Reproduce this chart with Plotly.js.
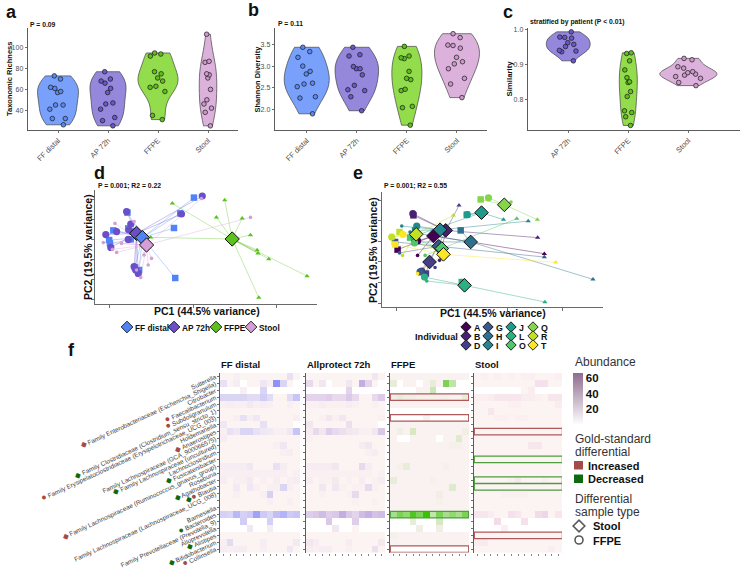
<!DOCTYPE html>
<html><head><meta charset="utf-8">
<script src="https://cdn.plot.ly/plotly-3.0.1.min.js"></script>
<style>html,body{margin:0;padding:0;background:#fff}#chart{width:743px;height:572px}</style>
</head><body><div id="chart"></div>
<script>
// ================= DATA =================
const groups = ['FF distal','AP 72h','FFPE','Stool'];
const richFF    = [73,70,62,61,58,57,45,45,41,32,32,26];
const richAP    = [77,70,68,66,61,57,47,46,41,33,30,25];
const richFFPE  = [95,94,92,77,75,71,68,63,62,58,35,31];
const richStool = [113,87,86,75,74,71,60,50,46,42,38,25];
const shanFF    = [3.43,3.33,3.20,3.00,2.88,2.82,2.61,2.59,2.53,2.30,2.27,1.91];
const shanAP    = [3.43,3.26,3.23,2.99,2.94,2.94,2.80,2.56,2.46,2.44,2.30,1.98];
const shanFFPE  = [3.45,3.23,3.19,3.17,2.88,2.72,2.69,2.47,2.44,2.08,2.05,1.65];
const shanStool = [3.74,3.65,3.48,3.47,3.41,3.20,3.10,3.05,2.94,2.72,2.59,2.28];
const simGroups = ['AP 72h','FFPE','Stool'];
const simAP    = [0.993,0.978,0.977,0.975,0.962,0.957,0.951,0.940,0.938,0.936,0.910];
const simFFPE  = [0.933,0.931,0.910,0.884,0.862,0.850,0.848,0.822,0.808,0.767,0.762,0.750,0.725];
const simStool = [0.917,0.913,0.893,0.889,0.879,0.876,0.872,0.869,0.865,0.860,0.848,0.839];

// PCoA (panel d) coordinates by sample type
const dFFx = [0.002,-0.031,-0.046,-0.158,-0.192,-0.202,-0.200,-0.150,-0.156,-0.140,-0.130,-0.043,-0.146];
const dFFy = [0.207,0.128,0.055,0.132,0.043,-0.005,-0.022,-0.002,0.053,-0.142,-0.155,-0.195,0.037];
const dAPx = [0.022,-0.028,-0.160,-0.150,-0.154,-0.184,-0.210,-0.198,-0.156,-0.142,-0.132,-0.138];
const dAPy = [0.215,0.125,0.137,0.075,0.045,0.037,0.022,-0.042,-0.002,-0.138,-0.172,-0.155];
const dFPx = [-0.050,0.076,0.056,0.118,0.138,0.154,0.156,0.182,0.274,0.158,-0.102];
const dFPy = [0.178,0.195,0.108,0.103,0.020,-0.055,-0.072,-0.100,-0.185,-0.293,0.008];
const dSTx = [0.020,0.138,-0.188,-0.142,-0.172,-0.184,-0.194,-0.118,-0.108,-0.100,-0.136,-0.126,-0.216];
const dSTy = [0.202,0.108,0.078,0.087,-0.022,-0.067,-0.052,-0.080,-0.130,-0.097,-0.155,-0.192,-0.018];
const dCentX = [-0.122,-0.136,0.094,-0.112];   // FF distal, AP 72h, FFPE, Stool
const dCentY = [0.007,0.028,0.000,-0.030];

// PCoA (panel e) by individual
const individuals = ['A','B','D','G','H','I','J','L','O','Q','R','T'];
const indColors = ['#440154','#482173','#433E85','#38598C','#2D708E','#25858E','#1E9B8A','#2BB07F','#51C56A','#85D54A','#C2DF23','#FDE725'];
const eCx  = [-0.066,-0.022,-0.080,-0.047,0.068,-0.042,0.107,0.046,-0.036,0.189,-0.128,-0.030];
const eCy  = [0.026,0.053,-0.100,-0.024,-0.003,0.056,0.139,-0.213,-0.035,0.177,0.034,-0.063];
const eFFx = [-0.195,-0.138,-0.093,-0.204,0.032,-0.132,0.054,0.036,-0.150,0.104,-0.188,-0.204];
const eFFy = [-0.040,0.126,-0.156,-0.003,0.053,0.053,0.129,-0.197,0.018,0.203,0.045,-0.015];
const eAPx = [-0.123,-0.140,-0.108,-0.114,-0.134,-0.126,0.056,-0.098,-0.134,0.132,-0.216,-0.176];
const eAPy = [0.002,0.134,-0.144,-0.148,-0.003,0.074,0.129,-0.173,-0.008,0.211,0.021,0.034];
const eFPx = [0.333,0.309,0.026,0.333,0.508,0.275,0.186,0.335,0.234,0.308,0.006,0.374];
const eFPy = [-0.060,0.018,0.174,-0.076,-0.184,0.098,0.105,-0.294,0.110,0.105,0.126,-0.102];
const eSTx = [-0.123,-0.044,-0.060,-0.188,-0.150,-0.180,-0.144,-0.090,-0.096,0.213,-0.177,-0.123];
const eSTy = [-0.068,-0.092,-0.127,-0.056,0.045,0.074,0.021,-0.192,-0.068,0.190,-0.068,-0.156];

// Heatmap (panel f)
const taxa = ['Sutterella','Family Enterobacteriaceae (Escherichia_Shigella)','Citrobacter','Faecalibacterium','Subdoligranulum',
 'Family Clostridiaceae (Clostridium_sensu_stricto_1)','Family Erysipelatoclostridiaceae (Erysipelotrichaceae_UCG_003)','Holdemanella',
 'Anaerostipes','Family Lachnospiraceae (GCA_900066575)','Family Lachnospiraceae (uncultured)','Lachnoclostridium','Fusicatenibacter',
 'Family Lachnospiraceae (Ruminococcus_gnavus_group)','Roseburia','Agathobacter','Blautia','Family Lachnospiraceae (Lachnospiraceae_UCG_008)',
 'Family Lachnospiraceae (Ruminococcus_torques_group)','Barnesiella','Bacteroides','Family Prevotellaceae (Prevotella_9)','Alloprevotella',
 'Alistipes','Bifidobacterium','Collinsella'];
const markStool = ['','inc','','','','dec','','','inc','','dec','','dec','inc','','dec','dec','','inc','','','','','dec','dec',''];
const markFFPE  = ['','','','inc','inc','','inc','','','','','','','','','','inc','','','','dec','','','','','inc'];
const facets = ['FF distal','Allprotect 72h','FFPE','Stool'];
const abFF = [
[2,2,3,2,2,2,2,2,2,2,8,2],[8,2,4,0,2,2,6,3,35,12,2,0],[0,0,0,3,0,0,12,0,0,0,0,0],[12,12,12,12,10,10,15,10,2,2,10,18],
[3,4,3,3,5,3,4,3,2,2,3,2],[2,2,2,2,2,2,2,2,2,2,2,2],[2,2,3,8,3,6,2,2,2,2,2,3],[6,2,2,2,2,2,8,2,2,2,2,0],
[3,8,6,12,12,8,6,5,3,3,6,18],[4,2,2,2,2,2,2,2,2,2,2,2],[2,2,2,2,2,2,2,2,3,6,2,2],[2,2,2,2,2,2,2,2,2,3,4,2],
[2,2,2,2,2,2,2,2,2,2,2,2],[4,4,4,4,6,2,2,2,8,4,2,2],[3,3,3,3,3,3,3,3,3,3,2,3],[4,2,3,3,5,2,3,2,4,2,3,4],
[2,2,5,2,6,3,2,3,3,12,3,2],[2,2,3,2,2,2,3,14,2,2,2,2],[2,2,2,2,2,2,2,3,2,2,3,2],[2,2,2,2,2,2,2,2,2,2,2,2],
[14,12,22,14,16,30,16,12,20,24,16,18],[0,0,0,15,0,0,0,14,0,0,0,0],[0,0,0,0,6,0,0,4,0,0,0,0],[2,2,2,2,2,2,2,2,2,2,2,2],
[3,10,2,2,2,2,4,2,2,2,2,5],[4,3,4,4,2,2,3,2,2,2,6,2]];
const abAP = [
[2,2,2,2,2,2,2,2,2,2,6,2],[10,2,6,0,2,2,6,2,25,12,2,0],[0,0,0,0,0,0,12,0,0,0,0,0],[12,12,12,14,10,10,15,10,2,2,10,15],
[3,3,4,3,3,3,4,3,2,2,3,2],[2,2,2,2,2,2,2,2,2,2,2,2],[2,2,3,6,3,6,2,2,2,2,2,3],[6,2,2,2,2,2,8,2,2,2,2,0],
[4,10,6,14,10,8,6,5,3,3,6,16],[3,2,2,2,2,2,2,2,2,2,2,2],[2,2,2,2,2,2,2,2,4,6,2,2],[2,2,2,2,2,2,2,2,2,3,4,2],
[2,2,2,2,2,2,2,2,2,2,2,2],[4,4,4,4,6,2,2,2,10,4,2,2],[3,3,3,3,3,3,3,3,3,3,2,3],[4,2,3,3,5,2,3,2,4,2,3,4],
[2,2,6,2,6,3,2,3,3,10,3,2],[2,2,3,2,2,2,3,10,2,2,2,2],[2,2,2,2,2,2,2,3,2,2,3,2],[2,2,2,2,2,2,2,2,2,2,2,2],
[14,16,20,14,16,25,16,12,20,24,18,20],[0,0,0,16,0,0,0,14,0,0,0,0],[0,0,0,0,6,0,0,2,0,0,0,0],[2,2,2,2,2,2,2,2,2,2,2,2],
[6,4,2,2,2,2,4,2,2,2,2,5],[4,3,4,4,2,2,3,2,2,2,8,2]];
const abFFPE = [
[2,2,2,2,2,2,2,2,2,2,2,2],[6,0,2,2,0,2,6,2,30,15,0,0],[0,0,0,0,2,2,12,0,0,0,0,0],[4,6,4,4,3,3,3,3,3,2,2,6],
[2,2,2,2,2,2,2,2,2,2,2,2],[0,0,0,0,0,0,0,0,0,0,0,0],[0,0,0,0,0,2,0,0,0,0,0,0],[2,2,2,2,2,2,2,2,2,2,2,2],
[2,4,2,10,2,2,2,2,2,2,2,4],[2,0,0,2,2,2,2,0,2,2,8,2],[2,2,2,2,2,2,2,2,2,3,3,2],[2,2,2,2,2,2,2,2,2,2,2,2],
[2,2,2,2,2,2,2,2,2,2,2,2],[2,3,6,2,2,2,2,2,3,2,2,2],[2,2,2,2,2,2,2,2,2,2,2,2],[6,2,2,2,2,2,3,2,2,2,2,2],
[2,2,2,2,2,2,2,2,2,8,2,2],[2,2,2,2,2,2,2,4,2,2,2,2],[2,2,2,2,2,2,2,3,2,2,2,2],[2,2,2,2,2,2,2,2,2,2,2,2],
[20,30,25,40,30,45,14,30,20,25,20,30],[0,0,0,6,0,0,0,10,0,0,0,0],[0,0,0,0,4,0,0,4,0,0,0,0],[3,2,2,2,2,2,2,2,2,2,2,2],
[2,2,2,2,2,2,2,2,2,2,2,2],[0,0,0,0,0,0,0,0,0,0,0,0]];
const abStool = [
[2,3,2,3,2,3,2,3,3,2,2,2,3],[2,2,2,2,2,2,2,2,2,8,8,2,2],[0,0,0,0,0,0,0,2,4,0,0,0,0],[3,3,4,6,6,6,6,4,4,3,2,6,6],
[2,2,2,2,2,3,3,2,2,2,2,2,4],[2,2,6,2,2,2,2,2,2,2,2,2,2],[2,2,2,3,3,2,3,3,2,2,2,2,2],[2,2,2,2,2,2,2,2,2,2,2,2,2],
[2,2,2,2,2,2,2,2,2,2,2,2,2],[2,2,2,2,2,2,2,2,2,2,2,2,2],[2,2,2,2,2,2,2,2,6,6,2,2,2],[2,2,2,2,2,2,2,2,2,2,2,2,2],
[2,2,2,2,2,2,2,2,2,2,2,2,2],[2,2,2,2,2,2,2,2,2,2,2,2,2],[2,2,2,2,2,2,2,2,2,2,2,2,2],[2,2,2,2,2,3,6,2,2,2,3,2,2],
[2,2,2,2,2,2,2,2,2,2,2,2,2],[2,2,2,2,3,3,3,3,2,2,2,2,2],[2,2,2,2,2,2,2,2,2,2,2,2,2],[2,2,2,2,2,2,2,2,2,2,2,2,2],
[6,6,4,2,2,8,6,2,2,10,12,2,6],[0,0,0,10,0,0,0,8,0,0,0,0,0],[0,0,0,0,3,0,0,0,0,0,0,0,0],[2,2,2,2,2,2,2,2,2,2,2,2,2],
[4,5,2,2,2,2,2,2,2,2,2,2,2],[2,2,2,2,2,2,2,2,2,2,2,4,2]];
const boxFFPEinc  = ['Faecalibacterium','Family Erysipelatoclostridiaceae (Erysipelotrichaceae_UCG_003)','Collinsella'];
const boxFFPEdec  = ['Bacteroides'];
const boxStoolInc = ['Anaerostipes','Alistipes'];
const boxStoolDec = ['Fusicatenibacter','Agathobacter','Blautia'];

// ================= STYLE / LAYOUT =================
const W=743,H=572,F='"Liberation Sans", Arial, sans-serif';
const xd=(a,b)=>[a/W,b/W], yd=(t,b)=>[1-b/H,1-t/H];
const px=x=>x/W, py=y=>1-y/H;
const fillCol = ['#79a1fb','#9487dc','#93dc4c','#dcb2dc'];
const ptCol   = ['#5a88f2','#6a58c8','#5cbf1a','#cc98cc'];
const grpCol  = ['#4f84f6','#6a4fc9','#5bc21f','#d59ed6'];
const incCol='#a34a4a', decCol='#0f6a0f', boxInc='#ad5a5a', boxDec='#4e9e3c';
function rgba(hex,a){const n=parseInt(hex.slice(1),16);return `rgba(${n>>16},${(n>>8)&255},${n&255},${a})`;}
function ann(text,x,y,size,o){return Object.assign({text,x:px(x),y:py(y),xref:'paper',yref:'paper',showarrow:false,xanchor:'left',yanchor:'middle',font:{family:F,size:size,color:'#111'}},o||{});}

const traces=[];
function vio(cat,vals,gi,width,xa,ya){
  traces.push({type:'violin',x:vals.map(()=>cat),y:vals,xaxis:xa,yaxis:ya,fillcolor:fillCol[gi],opacity:1,
    line:{color:'#444',width:0.7},points:'all',pointpos:0,jitter:0.55,
    marker:{color:ptCol[gi],size:4.6,line:{color:'#1a1a1a',width:0.7}},
    box:{visible:false},meanline:{visible:false},spanmode:'hard',width:width,scalemode:'width',
    scalegroup:xa+cat,hoverinfo:'skip',name:cat});
}
// panel a
[richFF,richAP,richFFPE,richStool].forEach((v,i)=>vio(groups[i],v,i,[0.82,0.72,0.8,0.35][i],'x','y'));
// panel b
[shanFF,shanAP,shanFFPE,shanStool].forEach((v,i)=>vio(groups[i],v,i,[0.9,0.87,0.6,0.9][i],'x2','y2'));
// panel c
[simAP,simFFPE,simStool].forEach((v,i)=>vio(simGroups[i],v,i+1,[0.73,0.3,0.95][i],'x3','y3'));

function spokes(xs,ys,cx,cy){const X=[],Y=[];xs.forEach((x,i)=>{X.push(cx,x,null);Y.push(cy,ys[i],null);});return {X,Y};}
// panel d
const dPts=[[dFFx,dFFy],[dAPx,dAPy],[dFPx,dFPy],[dSTx,dSTy]];
const dSym=[['square',6.5],['circle',7.2],['triangle-up',4.6],['circle',3.6]];
dPts.forEach((p,i)=>{const s=spokes(p[0],p[1],dCentX[i],dCentY[i]);
  traces.push({type:'scatter',mode:'lines',x:s.X,y:s.Y,xaxis:'x4',yaxis:'y4',line:{color:rgba(grpCol[i],0.5),width:0.7},hoverinfo:'skip'});});
dPts.forEach((p,i)=>traces.push({type:'scatter',mode:'markers',x:p[0],y:p[1],xaxis:'x4',yaxis:'y4',
  marker:{symbol:dSym[i][0],size:dSym[i][1],color:grpCol[i],line:{width:0}},hoverinfo:'skip'}));
[1,0,3,2].forEach(i=>traces.push({type:'scatter',mode:'markers',x:[dCentX[i]],y:[dCentY[i]],xaxis:'x4',yaxis:'y4',
  marker:{symbol:'diamond',size:11,color:grpCol[i],line:{color:'#111',width:1}},hoverinfo:'skip'}));
// panel e
const ePts=[[eFFx,eFFy],[eAPx,eAPy],[eFPx,eFPy],[eSTx,eSTy]];
individuals.forEach((ind,k)=>{const X=[],Y=[];ePts.forEach(p=>{X.push(eCx[k],p[0][k],null);Y.push(eCy[k],p[1][k],null);});
  traces.push({type:'scatter',mode:'lines',x:X,y:Y,xaxis:'x5',yaxis:'y5',line:{color:rgba(indColors[k],0.55),width:0.8},hoverinfo:'skip'});});
ePts.forEach((p,i)=>traces.push({type:'scatter',mode:'markers',x:p[0],y:p[1],xaxis:'x5',yaxis:'y5',
  marker:{symbol:dSym[i][0],size:dSym[i][1],color:indColors,line:{width:0}},hoverinfo:'skip'}));
traces.push({type:'scatter',mode:'markers',x:eCx,y:eCy,xaxis:'x5',yaxis:'y5',
  marker:{symbol:'diamond',size:10.5,color:indColors,line:{color:'#111',width:1}},hoverinfo:'skip'});

// panel f heatmaps
const hmCol=['#3c4bff','#6b45c7','#34c000','#b050ac'];
const hmMax=[60,60,46,60];
const rowsIdx=taxa.map((t,i)=>i);
[abFF,abAP,abFFPE,abStool].forEach((m,i)=>{
  traces.push({type:'heatmap',z:m,x:m[0].map((v,j)=>j),y:rowsIdx,xaxis:'x'+(6+i),yaxis:'y'+(6+i),
    colorscale:[[0,'#ffffff'],[0.035,'#fcf2f2'],[1,hmCol[i]]],zmin:0,zmax:hmMax[i],showscale:false,hoverinfo:'skip'});
});
// abundance colour bar (legend only)
traces.push({type:'scatter',mode:'markers',x:[-50],y:[-50],xaxis:'x10',yaxis:'y10',hoverinfo:'skip',
  marker:{color:[0],cmin:0,cmax:66,colorscale:[[0,'#ffffff'],[1,'#8f6c8f']],showscale:true,
  colorbar:{x:px(573),xanchor:'left',y:py(399),yanchor:'middle',len:52,lenmode:'pixels',thickness:10,thicknessmode:'pixels',
   outlinewidth:0,tickvals:[20,40,60],ticks:'',xpad:0,ypad:0,tickfont:{family:F,size:11.5,color:'#111',weight:'bold'}}}});

// legend swatches (overlay pixel axis)
const dLegX=[127,174,216,251];
traces.push({type:'scatter',mode:'markers',x:dLegX,y:dLegX.map(()=>327),xaxis:'x10',yaxis:'y10',
  marker:{symbol:'diamond',size:9,color:grpCol,line:{color:'#111',width:0.9}},hoverinfo:'skip'});
const eLegColX=[466,488,511,533], eLegRowY=[327,336,345];
traces.push({type:'scatter',mode:'markers',x:individuals.map((d,k)=>eLegColX[Math.floor(k/3)]),y:individuals.map((d,k)=>eLegRowY[k%3]),
  xaxis:'x10',yaxis:'y10',marker:{symbol:'diamond',size:8,color:indColors,line:{color:'#111',width:0.9}},hoverinfo:'skip'});
traces.push({type:'scatter',mode:'markers',x:[579,579],y:[526,540],xaxis:'x10',yaxis:'y10',
  marker:{symbol:['diamond-open','circle-open'],size:[9,8],color:'#111',line:{width:1.6}},hoverinfo:'skip'});

const baseAx={showline:true,linecolor:'#333',linewidth:0.8,ticks:'outside',ticklen:2.5,tickwidth:0.7,tickcolor:'#333',
  showgrid:false,zeroline:false,tickfont:{family:F,size:7,color:'#4d4d4d'},fixedrange:true,automargin:false};
const pcAx={...baseAx,showticklabels:false,linecolor:'#444',ticklen:3};
const hmX={...baseAx,showline:false,ticklen:2,showticklabels:false,tickwidth:0.6};
const hmY={...baseAx,ticklen:2.5,showticklabels:false,tickvals:rowsIdx,range:[taxa.length-0.5,-0.5],domain:yd(373,552.6)};

function lab(i){let s='';
  if(markStool[i]) s+=`<span style="color:${markStool[i]==='inc'?incCol:decCol};font-size:8px">◆</span>`;
  if(markFFPE[i]) s+=`<span style="color:${markFFPE[i]==='inc'?incCol:decCol};font-size:9px">●</span>`;
  return s+(s?' ':'')+taxa[i];}

const layout={width:W,height:H,margin:{l:0,r:0,t:0,b:0},paper_bgcolor:'#fff',plot_bgcolor:'rgba(0,0,0,0)',showlegend:false,
 font:{family:F},
 xaxis:{...baseAx,domain:xd(28,238),type:'category',categoryarray:groups,range:[-0.6,3.6],tickangle:-45,anchor:'y',tickfont:{family:F,size:7.5,color:'#4d4d4d'}},
 yaxis:{...baseAx,domain:yd(28,130),range:[21,119],dtick:20,anchor:'x'},
 xaxis2:{...baseAx,domain:xd(275,487),type:'category',categoryarray:groups,range:[-0.634,3.6],tickangle:-45,anchor:'y2',tickfont:{family:F,size:7.5,color:'#4d4d4d'}},
 yaxis2:{...baseAx,domain:yd(28,130),range:[1.54,3.87],dtick:0.5,tickformat:'.1f',anchor:'x2'},
 xaxis3:{...baseAx,domain:xd(528,740),type:'category',categoryarray:simGroups,range:[-0.67,2.86],tickangle:-45,anchor:'y3',tickfont:{family:F,size:7.5,color:'#4d4d4d'}},
 yaxis3:{...baseAx,domain:yd(28,130),range:[0.712,1.004],dtick:0.1,tickformat:'.1f',anchor:'x3'},
 xaxis4:{...pcAx,domain:xd(95,317),range:[-0.236,0.298],dtick:0.2,tick0:0,anchor:'y4'},
 yaxis4:{...pcAx,domain:yd(190,304),range:[-0.325,0.245],dtick:0.1,tick0:0,anchor:'x4'},
 xaxis5:{...pcAx,domain:xd(382,603),range:[-0.251,0.544],dtick:0.2,tick0:0,anchor:'y5'},
 yaxis5:{...pcAx,domain:yd(192,307),range:[-0.318,0.239],dtick:0.1,tick0:0,anchor:'x5'},
 xaxis6:{...hmX,domain:xd(220,300),range:[-0.5,11.5],tickvals:abFF[0].map((v,j)=>j),anchor:'y6'},
 yaxis6:{...hmY,anchor:'x6',showticklabels:true,ticktext:taxa.map((t,i)=>lab(i)),tickangle:-25,
   tickfont:{family:F,size:6.4,color:'#3d3d3d'}},
 xaxis7:{...hmX,domain:xd(306,385),range:[-0.5,11.5],tickvals:abAP[0].map((v,j)=>j),anchor:'y7'},
 yaxis7:{...hmY,anchor:'x7'},
 xaxis8:{...hmX,domain:xd(390,469),range:[-0.5,11.5],tickvals:abFFPE[0].map((v,j)=>j),anchor:'y8'},
 yaxis8:{...hmY,anchor:'x8'},
 xaxis9:{...hmX,domain:xd(474,562),range:[-0.5,12.5],tickvals:abStool[0].map((v,j)=>j),anchor:'y9'},
 yaxis9:{...hmY,anchor:'x9'},
 xaxis10:{domain:[0,1],range:[0,W],visible:false,fixedrange:true,anchor:'y10'},
 yaxis10:{domain:[0,1],range:[H,0],visible:false,fixedrange:true,anchor:'x10'},
 shapes:[],annotations:[]};

// gold-standard boxes
function boxes(list,col,xa,ya,ncol){list.forEach(t=>{const r=taxa.indexOf(t);
  layout.shapes.push({type:'rect',xref:xa,yref:ya,x0:-0.45,x1:ncol-0.55,y0:r-0.47,y1:r+0.47,line:{color:col,width:1.2},fillcolor:'rgba(0,0,0,0)'});});}
boxes(boxFFPEinc,boxInc,'x8','y8',12); boxes(boxFFPEdec,boxDec,'x8','y8',12);
boxes(boxStoolInc,boxInc,'x9','y9',13.1); boxes(boxStoolDec,boxDec,'x9','y9',13.1);
layout.shapes.push({type:'rect',xref:'paper',yref:'paper',x0:px(574),x1:px(583),y0:py(469.5),y1:py(461),fillcolor:incCol,line:{width:0}});
layout.shapes.push({type:'rect',xref:'paper',yref:'paper',x0:px(574),x1:px(583),y0:py(483),y1:py(474.5),fillcolor:decCol,line:{width:0}});

const A=layout.annotations, B=s=>'<b>'+s+'</b>';
// panel letters
[['a',4,11.5],['b',246,10.5],['c',501,11.5],['d',92,173],['e',351,173],['f',66,350]].forEach(l=>A.push(ann(B(l[0]),l[1],l[2],18)));
A.push(ann(B('P = 0.09'),28,24,6.8), ann(B('P = 0.11'),276,23.5,6.8), ann(B('stratified by patient (P < 0.01)'),528,21.7,6.8),
       ann(B('P = 0.001; R2 = 0.22'),96,185.5,6.8), ann(B('P = 0.001; R2 = 0.55'),382,185.5,6.8));
A.push(ann(B('Taxonomic Richness'),9,79,7.5,{xanchor:'center',textangle:-90}),
       ann(B('Shannon Diversity'),256.5,79,7.5,{xanchor:'center',textangle:-90}),
       ann(B('Similarity'),508.5,79,7.8,{xanchor:'center',textangle:-90}));
A.push(ann(B('PC1 (44.5% variance)'),207,311,10.5,{xanchor:'center'}),
       ann(B('PC2 (19.5% variance)'),88,247,10.5,{xanchor:'center',textangle:-90}),
       ann(B('PC1 (44.5% variance)'),493,313,10.5,{xanchor:'center'}),
       ann(B('PC2 (19.5% variance)'),373,250,10.5,{xanchor:'center',textangle:-90}));
groups.forEach((g,i)=>A.push(ann(B(g),dLegX[i]+5.5,327.5,8.3)));
individuals.forEach((d,k)=>A.push(ann(B(d),eLegColX[Math.floor(k/3)]+6,eLegRowY[k%3]+0.5,8.8)));
A.push(ann(B('Individual'),460,336.5,9.2,{xanchor:'right'}));
[220,306,390,474].forEach((x,i)=>A.push(ann(B(facets[i]),x-1,364,9.5)));
A.push(ann('Abundance',573,362,12,{font:{family:F,size:12,color:'#333'}}),
       ann('Gold-standard',573,439,12,{font:{family:F,size:12,color:'#333'}}),
       ann('differential',573,451.7,12,{font:{family:F,size:12,color:'#333'}}),
       ann(B('Increased'),586,465.5,11),ann(B('Decreased'),586,479,11),
       ann('Differential',573,499,12,{font:{family:F,size:12,color:'#333'}}),
       ann('sample type',573,511.5,12,{font:{family:F,size:12,color:'#333'}}),
       ann(B('Stool'),591,526,11),ann(B('FFPE'),591,540.5,11));

Plotly.newPlot('chart',traces,layout,{staticPlot:true,displayModeBar:false});
</script></body></html>
